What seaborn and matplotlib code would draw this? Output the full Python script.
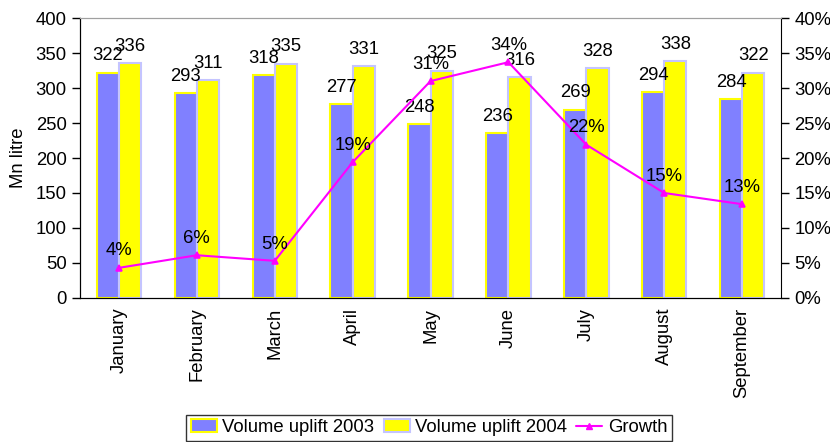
import pandas as pd
import numpy as np
import seaborn as sns
import matplotlib.pyplot as plt
from matplotlib.patches import Patch
from matplotlib.lines import Line2D
from matplotlib.ticker import PercentFormatter, MultipleLocator

# values
months = ["January", "February", "March", "April", "May", "June", "July", "August", "September"]
vol_2003 = [322, 293, 318, 277, 248, 236, 269, 294, 284]
vol_2004 = [336, 311, 335, 331, 325, 316, 328, 338, 322]
growth = [0.043, 0.061, 0.053, 0.194, 0.310, 0.337, 0.219, 0.150, 0.134]

sns.set_style("white")
plt.rcParams["font.family"] = ["Liberation Sans", "DejaVu Sans"]
plt.rcParams["text.color"] = "black"
plt.rcParams["axes.labelcolor"] = "black"
plt.rcParams["xtick.color"] = "black"
plt.rcParams["ytick.color"] = "black"

blue = "#8080FF"
yellow = "#FFFF00"
lav = "#C4C4FF"
magenta = "#FF00FF"
fs = 13.3

bars = pd.DataFrame({
    "month": months * 2,
    "volume": vol_2003 + vol_2004,
    "series": ["Volume uplift 2003"] * 9 + ["Volume uplift 2004"] * 9,
})
line = pd.DataFrame({"month": months, "growth": growth})

fig = plt.figure(figsize=(8.3, 4.42), dpi=100)
ax = fig.add_axes([0.0964, 0.326, 0.8446, 0.633])

sns.barplot(data=bars, x="month", y="volume", hue="series",
            palette=[blue, yellow], width=0.57, ax=ax, legend=False,
            saturation=1)
for cont, ec in zip(ax.containers, [yellow, lav]):
    for p in cont:
        p.set_edgecolor(ec)
        p.set_linewidth(1.5)
    ax.bar_label(cont, padding=6, fontsize=fs)

ax.set_ylim(0, 400)
ax.yaxis.set_major_locator(MultipleLocator(50))
ax.set_ylabel("Mn litre", fontsize=fs, labelpad=6)
ax.set_xlabel("")

ax2 = ax.twinx()
sns.pointplot(data=line, x="month", y="growth", ax=ax2, color=magenta,
              marker="^", markersize=5, linewidth=1.5, errorbar=None)
ax2.set_ylim(0, 0.4)
ax2.yaxis.set_major_locator(MultipleLocator(0.05))
ax2.yaxis.set_major_formatter(PercentFormatter(1.0, decimals=0))
ax2.set_ylabel("")
ax2.set_xlabel("")
for i, g in enumerate(growth):
    ax2.annotate(f"{g:.0%}", (i, g), xytext=(0, 6), textcoords="offset points",
                 ha="center", va="bottom", fontsize=fs)

ax.set_xlim(-0.5, len(months) - 0.5)
ax.set_xticks(range(len(months)))
ax.set_xticklabels(months, rotation=90, fontsize=fs)
ax.set_xticks(np.arange(len(months) + 1) - 0.5, minor=True)
ax.tick_params(axis="x", which="major", length=0, pad=7)
ax.tick_params(axis="x", which="minor", length=6, width=1, color="#808080", direction="out")
ax.tick_params(axis="y", length=6, width=1, direction="out", left=True, labelsize=fs)
ax2.tick_params(axis="y", length=6, width=1, direction="out", right=True, labelsize=fs)

for a in (ax, ax2):
    a.grid(False)
    a.spines["top"].set_color("#A0A0A0")
    a.spines["left"].set_color("black")
    a.spines["right"].set_color("black")
    a.spines["bottom"].set_color("black")
ax.spines["right"].set_visible(False)

handles = [
    Patch(facecolor=blue, edgecolor=yellow, linewidth=1.5, label="Volume uplift 2003"),
    Patch(facecolor=yellow, edgecolor=lav, linewidth=1.5, label="Volume uplift 2004"),
    Line2D([0], [0], color=magenta, marker="^", markersize=5, linewidth=1.5, label="Growth"),
]
leg = fig.legend(handles=handles, loc="center", bbox_to_anchor=(0.517, 0.032), ncol=3,
                 fontsize=fs, frameon=True, fancybox=False, edgecolor="black",
                 handlelength=1.4, handletextpad=0.3, columnspacing=0.5, borderpad=0.25)
leg.get_frame().set_linewidth(1)

fig.savefig("out.png", dpi=100)
